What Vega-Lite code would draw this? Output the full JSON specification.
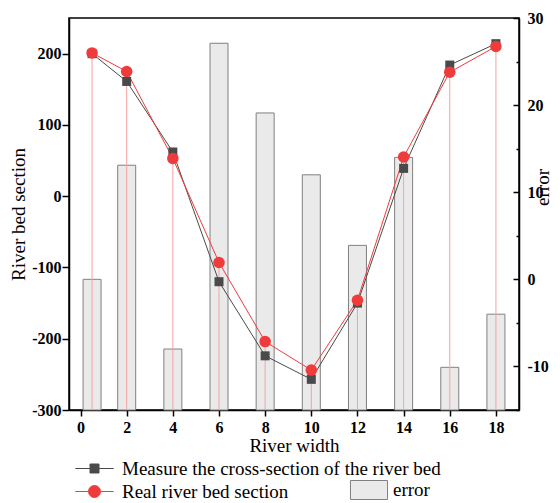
{
  "$schema": "https://vega.github.io/schema/vega-lite/v6.json",
  "width": 450,
  "height": 392,
  "autosize": {"type": "none"},
  "padding": {"left": 69, "top": 18, "right": 41, "bottom": 93},
  "background": "white",
  "config": {
    "view": {"stroke": "black", "strokeWidth": 1.5},
    "font": "Liberation Serif",
    "axis": {
      "grid": false,
      "domainColor": "black",
      "domainWidth": 1.5,
      "tickColor": "black",
      "tickWidth": 1.5,
      "labelFont": "Liberation Serif",
      "labelFontSize": 16,
      "labelFontWeight": "bold",
      "labelColor": "black",
      "titleFont": "Liberation Serif",
      "titleFontSize": 19,
      "titleFontWeight": "normal",
      "titleColor": "black"
    },
    "legend": {"labelFont": "Liberation Serif", "labelFontSize": 19, "labelColor": "black", "padding": 0, "labelLimit": 0}
  },
  "datasets": {
    "sections": [
      {"width": 0.5, "series": "Measure the cross-section of the river bed", "value": 200},
      {"width": 2, "series": "Measure the cross-section of the river bed", "value": 161},
      {"width": 4, "series": "Measure the cross-section of the river bed", "value": 62},
      {"width": 6, "series": "Measure the cross-section of the river bed", "value": -120},
      {"width": 8, "series": "Measure the cross-section of the river bed", "value": -224},
      {"width": 10, "series": "Measure the cross-section of the river bed", "value": -257},
      {"width": 12, "series": "Measure the cross-section of the river bed", "value": -150},
      {"width": 14, "series": "Measure the cross-section of the river bed", "value": 39},
      {"width": 16, "series": "Measure the cross-section of the river bed", "value": 184},
      {"width": 18, "series": "Measure the cross-section of the river bed", "value": 214},
      {"width": 0.5, "series": "Real river bed section", "value": 201},
      {"width": 2, "series": "Real river bed section", "value": 175},
      {"width": 4, "series": "Real river bed section", "value": 53},
      {"width": 6, "series": "Real river bed section", "value": -93},
      {"width": 8, "series": "Real river bed section", "value": -204},
      {"width": 10, "series": "Real river bed section", "value": -244},
      {"width": 12, "series": "Real river bed section", "value": -146},
      {"width": 14, "series": "Real river bed section", "value": 55},
      {"width": 16, "series": "Real river bed section", "value": 174},
      {"width": 18, "series": "Real river bed section", "value": 210}
    ],
    "errors": [
      {"width": 0.5, "error": 0},
      {"width": 2, "error": 13.1},
      {"width": 4, "error": -8},
      {"width": 6, "error": 27.1},
      {"width": 8, "error": 19.1},
      {"width": 10, "error": 12},
      {"width": 12, "error": 3.9},
      {"width": 14, "error": 14},
      {"width": 16, "error": -10.1},
      {"width": 18, "error": -4}
    ]
  },
  "layer": [
    {
      "data": {"name": "errors"},
      "mark": {"type": "bar", "width": 18, "stroke": "#808080", "strokeWidth": 1},
      "encoding": {
        "x": {
          "field": "width", "type": "quantitative",
          "scale": {"domain": [-0.5, 19], "nice": false, "zero": false, "padding": 0},
          "axis": {
            "values": [0,1,2,3,4,5,6,7,8,9,10,11,12,13,14,15,16,17,18],
            "labelExpr": "datum.value % 2 === 0 ? '' + datum.value : ''",
            "tickSize": {"condition": {"test": "datum.value % 2 === 0", "value": 6}, "value": 3},
            "labelPadding": 3,
            "title": "River width",
            "titlePadding": 1
          }
        },
        "y": {
          "field": "error", "type": "quantitative",
          "scale": {"domain": [-15, 30], "nice": false, "zero": false, "padding": 0},
          "axis": {
            "orient": "right",
            "values": [-15,-10,-5,0,5,10,15,20,25,30],
            "labelExpr": "datum.value % 10 === 0 ? '' + datum.value : ''",
            "tickSize": {"condition": {"test": "datum.value % 10 === 0", "value": -6}, "value": -3},
            "labelPadding": 14,
            "title": "error",
            "titleAngle": 270,
            "titleAlign": "center",
            "titleY": 169,
            "titlePadding": 4
          }
        },
        "y2": {"datum": -15},
        "fill": {
          "datum": "error", "type": "nominal",
          "scale": {"range": ["#eaeaea"]},
          "legend": {
            "orient": "none", "legendX": 290, "legendY": 462, "title": null,
            "symbolType": "M-1.95,-1H1.95V1H-1.95Z", "symbolSize": 361,
            "symbolStrokeColor": "#808080", "symbolStrokeWidth": 1,
            "labelOffset": 14
          }
        }
      }
    },
    {
      "data": {"name": "sections"},
      "layer": [
        {
          "transform": [{"filter": "datum.series === 'Real river bed section'"}],
          "mark": {"type": "rule", "color": "#f4a3a3", "strokeWidth": 1},
          "encoding": {
            "x": {"field": "width", "type": "quantitative"},
            "y": {"field": "value", "type": "quantitative"},
            "y2": {"datum": -300}
          }
        },
        {
          "mark": {"type": "line", "strokeWidth": 1},
          "encoding": {
            "x": {"field": "width", "type": "quantitative"},
            "y": {
              "field": "value", "type": "quantitative",
              "scale": {"domain": [-300, 250], "nice": false, "zero": false, "padding": 0},
              "axis": {
                "values": [-300,-250,-200,-150,-100,-50,0,50,100,150,200],
                "labelExpr": "datum.value % 100 === 0 ? '' + datum.value : ''",
                "tickSize": {"condition": {"test": "datum.value % 100 === 0", "value": 7}, "value": 4},
                "labelPadding": 1,
                "title": "River bed section",
                "titlePadding": 3
              }
            },
            "color": {
              "field": "series", "type": "nominal",
              "scale": {"domain": ["Measure the cross-section of the river bed", "Real river bed section"], "range": ["#4a4a4a", "#ef3b3b"]},
              "legend": {
                "orient": "none", "legendX": 16, "legendY": 441, "title": null,
                "direction": "vertical",
                "symbolSize": 144, "labelOffset": 18, "rowPadding": 3,
                "symbolStrokeWidth": 1,
                "encode": {
                  "symbols": {
                    "update": {
                      "shape": {"signal": "datum.value === 'Real river bed section' ? 'M-3.2,0H-1M1,0H3.2M-1,0A1,1,0,1,1,1,0A1,1,0,1,1,-1,0Z' : 'M-3.2,0H-0.75M0.75,0H3.2M-0.75,-0.75H0.75V0.75H-0.75Z'"},
                      "fill": {"signal": "datum.value === 'Real river bed section' ? '#ef3b3b' : '#444444'"},
                      "stroke": {"signal": "datum.value === 'Real river bed section' ? '#ef3b3b' : '#555555'"},
                      "opacity": {"value": 1},
                      "fillOpacity": {"value": 1}
                    }
                  }
                }
              }
            }
          }
        },
        {
          "transform": [{"filter": "datum.series !== 'Real river bed section'"}],
          "mark": {"type": "square", "size": 81, "opacity": 1},
          "encoding": {
            "x": {"field": "width", "type": "quantitative"},
            "y": {"field": "value", "type": "quantitative"},
            "color": {"field": "series", "type": "nominal"}
          }
        },
        {
          "transform": [{"filter": "datum.series === 'Real river bed section'"}],
          "mark": {"type": "circle", "size": 133, "opacity": 1},
          "encoding": {
            "x": {"field": "width", "type": "quantitative"},
            "y": {"field": "value", "type": "quantitative"},
            "color": {"field": "series", "type": "nominal"}
          }
        }
      ]
    }
  ],
  "resolve": {"scale": {"y": "independent"}}
}
